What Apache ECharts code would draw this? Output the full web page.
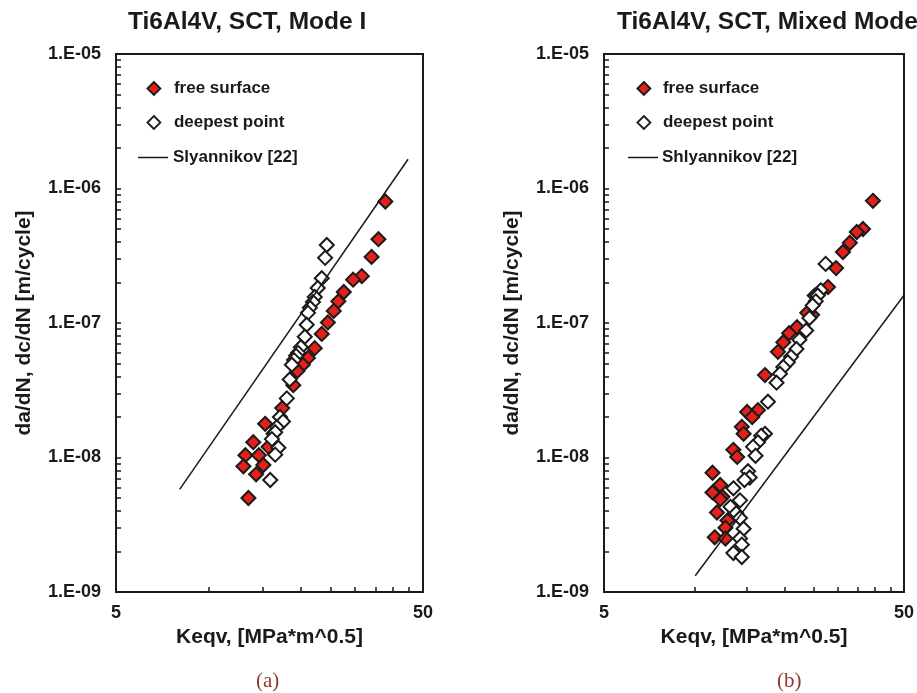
<!DOCTYPE html>
<html><head><meta charset="utf-8">
<script src="https://cdn.jsdelivr.net/npm/echarts@6/dist/echarts.min.js"></script>
<style>html,body{margin:0;padding:0;background:#fff}#c{width:917px;height:693px}</style>
</head><body><div id="c"></div>
<script>
// ---------- texts ----------
const panelTitles = ['Ti6Al4V, SCT, Mode I', 'Ti6Al4V, SCT, Mixed Mode'];
const panelTags = ['(a)', '(b)'];
const seriesNames = ['free surface', 'deepest point'];
const modelNames = ['Slyannikov [22]', 'Shlyannikov [22]'];
const xTitle = 'Keqv, [MPa*m^0.5]';
const yTitle = 'da/dN, dc/dN [m/cycle]';

// ---------- ticks ----------
const xTickValues = [5, 50];
const xTickLabels = ['5', '50'];
const xMinorTicks = [10, 15, 20, 25, 30, 35, 40, 45];
const yTickValues = [1e-9, 1e-8, 1e-7, 1e-6, 1e-5];
const yTickLabels = ['1.E-09', '1.E-08', '1.E-07', '1.E-06', '1.E-05'];
const yMinorTicks = [
  2e-9, 3e-9, 4e-9, 5e-9, 6e-9, 7e-9, 8e-9, 9e-9, 1e-8,
  2e-8, 3e-8, 4e-8, 5e-8, 6e-8, 7e-8, 8e-8, 9e-8, 1e-7,
  2e-7, 3e-7, 4e-7, 5e-7, 6e-7, 7e-7, 8e-7, 9e-7, 1e-6,
  2e-6, 3e-6, 4e-6, 5e-6, 6e-6, 7e-6, 8e-6, 9e-6
];

// ---------- data: [Keqv, rate] ----------
const modeIFree = [
  [37.7, 8.0e-7], [35.8, 4.2e-7], [34.0, 3.1e-7], [31.6, 2.23e-7], [29.6, 2.1e-7],
  [27.6, 1.7e-7], [26.5, 1.45e-7], [25.6, 1.23e-7], [24.5, 1.01e-7], [23.4, 8.3e-8],
  [22.2, 6.5e-8], [21.1, 5.5e-8], [20.3, 4.9e-8], [19.5, 4.4e-8], [18.9, 3.45e-8],
  [17.4, 2.33e-8], [16.3, 1.5e-8], [15.3, 1.78e-8], [15.7, 1.2e-8], [14.0, 1.3e-8],
  [13.2, 1.04e-8], [14.6, 1.04e-8], [13.0, 8.6e-9], [15.1, 8.8e-9], [14.3, 7.5e-9],
  [13.5, 5.0e-9]
];
const modeIDeep = [
  [24.3, 3.8e-7], [24.0, 3.05e-7], [23.4, 2.15e-7], [22.7, 1.82e-7], [22.2, 1.56e-7],
  [21.9, 1.43e-7], [21.4, 1.3e-7], [21.1, 1.19e-7], [20.9, 9.7e-8], [20.6, 7.9e-8],
  [20.0, 6.6e-8], [19.6, 6.0e-8], [19.3, 5.7e-8], [19.0, 5.3e-8], [18.7, 4.9e-8],
  [18.4, 3.8e-8], [18.0, 2.75e-8], [17.1, 2.0e-8], [17.5, 1.85e-8], [16.7, 1.68e-8],
  [16.5, 1.54e-8], [16.1, 1.37e-8], [16.9, 1.18e-8], [16.5, 1.05e-8], [15.9, 6.8e-9]
];
const modeIModel = [[8.06, 5.8e-9], [44.7, 1.65e-6]];

const mixedFree = [
  [39.4, 8.1e-7], [36.5, 5.0e-7], [34.8, 4.75e-7], [33.0, 3.95e-7], [31.3, 3.37e-7],
  [29.7, 2.56e-7], [27.9, 1.85e-7], [26.2, 1.7e-7], [25.2, 1.6e-7], [24.7, 1.15e-7],
  [23.8, 1.19e-7], [22.0, 9.3e-8], [20.7, 8.4e-8], [19.8, 7.2e-8], [19.0, 6.1e-8],
  [17.2, 4.1e-8], [16.3, 2.25e-8], [15.0, 2.18e-8], [15.6, 2.0e-8], [14.4, 1.69e-8],
  [14.6, 1.5e-8], [13.5, 1.14e-8], [13.9, 1.01e-8], [11.5, 7.7e-9], [12.2, 6.25e-9],
  [11.5, 5.5e-9], [12.4, 5.1e-9], [12.2, 4.9e-9], [11.9, 3.9e-9], [12.9, 3.4e-9],
  [12.7, 3.0e-9], [11.7, 2.55e-9], [12.7, 2.5e-9]
];
const mixedDeep = [
  [27.4, 2.75e-7], [26.4, 1.75e-7], [25.8, 1.6e-7], [25.4, 1.45e-7], [24.8, 1.35e-7],
  [24.2, 1.09e-7], [23.6, 8.8e-8], [22.4, 7.5e-8], [21.9, 6.4e-8], [21.0, 5.6e-8],
  [20.5, 5.1e-8], [19.8, 4.7e-8], [19.3, 4.2e-8], [18.8, 3.6e-8], [17.6, 2.6e-8],
  [17.2, 1.5e-8], [16.7, 1.45e-8], [16.3, 1.3e-8], [15.7, 1.2e-8], [16.0, 1.03e-8],
  [15.1, 7.9e-9], [15.3, 7.1e-9], [14.7, 6.8e-9], [13.5, 5.9e-9], [14.2, 4.8e-9],
  [13.2, 4.3e-9], [13.8, 3.85e-9], [14.2, 3.55e-9], [14.6, 2.95e-9], [14.2, 2.5e-9],
  [14.4, 2.25e-9], [13.5, 1.95e-9], [14.4, 1.82e-9]
];
const mixedModel = [[10.07, 1.32e-9], [50, 1.61e-7]];

// ---------- build ----------
const INK = '#1a1a1a';
const RED = '#e32119';
const FONT = '"Liberation Sans", Arial, sans-serif';
const grids = [
  {left: 116, top: 54, width: 307, height: 538},
  {left: 604, top: 54, width: 300, height: 538}
];
function fmtX(v) {
  for (let i = 0; i < xTickValues.length; i++) if (Math.abs(v - xTickValues[i]) < 1e-6) return xTickLabels[i];
  return '';
}
function fmtY(v) {
  const e = Math.round(Math.log10(v));
  for (let i = 0; i < yTickValues.length; i++) if (Math.round(Math.log10(yTickValues[i])) === e) return yTickLabels[i];
  return '';
}
const labelStyle = {fontSize: 18, fontWeight: 'bold', color: INK, fontFamily: FONT};
const nameStyle = {fontSize: 21, fontWeight: 'bold', color: INK, fontFamily: FONT};

const xAxes = [0, 1].map(i => ({
  type: 'log', logBase: 10, gridIndex: i, min: 5, max: 50,
  axisLine: {show: false}, splitLine: {show: false},
  axisTick: {show: true, inside: true, length: 5, customValues: xMinorTicks, lineStyle: {color: INK, width: 1.5}},
  axisLabel: {customValues: xTickValues, formatter: fmtX, margin: 12, ...labelStyle},
  name: xTitle, nameLocation: 'middle', nameGap: 32, nameTextStyle: nameStyle
}));
const yAxes = [0, 1].map(i => ({
  type: 'log', logBase: 10, gridIndex: i, min: 1e-9, max: 1e-5,
  axisLine: {show: false}, splitLine: {show: false},
  axisTick: {show: true, inside: true, length: 5, customValues: yMinorTicks, lineStyle: {color: INK, width: 1.5}},
  axisLabel: {customValues: yTickValues, formatter: fmtY, margin: 15, ...labelStyle},
  name: yTitle, nameLocation: 'middle', nameRotate: 90, nameGap: 81, nameTextStyle: nameStyle
}));

const panels = [
  {free: modeIFree, deep: modeIDeep, model: modeIModel, modelName: modelNames[0]},
  {free: mixedFree, deep: mixedDeep, model: mixedModel, modelName: modelNames[1]}
];
const series = [];
panels.forEach((p, i) => {
  series.push({
    type: 'scatter', name: seriesNames[0], xAxisIndex: i, yAxisIndex: i,
    symbol: 'diamond', symbolSize: 14,
    itemStyle: {color: RED, borderColor: INK, borderWidth: 2, opacity: 1},
    data: p.free
  });
  series.push({
    type: 'scatter', name: seriesNames[1], xAxisIndex: i, yAxisIndex: i,
    symbol: 'diamond', symbolSize: 14,
    itemStyle: {color: '#ffffff', borderColor: INK, borderWidth: 2, opacity: 1},
    data: p.deep
  });
  series.push({
    type: 'line', name: p.modelName, xAxisIndex: i, yAxisIndex: i,
    symbol: 'none', silent: true,
    itemStyle: {color: INK},
    lineStyle: {color: INK, width: 1.5},
    data: p.model
  });
});

const markerCenters = [153, 643];
const lineLefts = [138, 628];
const textLefts = [173, 662];
const legendTops = [80, 114, 149];
const legends = [];
[0, 1].forEach(i => {
  [seriesNames[0], seriesNames[1]].forEach((n, k) => {
    const w = 13;
    const left = markerCenters[i] - w / 2;
    legends.push({
      data: [{name: n, icon: 'diamond'}], left: left, top: legendTops[k], padding: 0,
      itemWidth: w, itemHeight: w, itemGap: 0, selectedMode: false,
      itemStyle: {borderWidth: 1.8, borderColor: INK},
      textStyle: {fontSize: 17, fontWeight: 'bold', color: INK, fontFamily: FONT,
        padding: [0, 0, 0, textLefts[i] - (left + w + 5)]}
    });
  });
  const lw = 30;
  legends.push({
    data: [{name: panels[i].modelName, icon: 'rect'}], left: lineLefts[i], top: legendTops[2], padding: 0,
    itemWidth: lw, itemHeight: 1.5, itemGap: 0, selectedMode: false,
    itemStyle: {color: INK, borderWidth: 0},
    textStyle: {fontSize: 17, fontWeight: 'bold', color: INK, fontFamily: FONT,
      padding: [0, 0, 0, textLefts[i] - (lineLefts[i] + lw + 5)]}
  });
});

const chart = echarts.init(document.getElementById('c'), null, {renderer: 'canvas'});
chart.setOption({
  backgroundColor: '#ffffff',
  animation: false,
  title: [
    {text: panelTitles[0], left: 128, top: 10, padding: 0, textStyle: {fontSize: 24.5, fontWeight: 'bold', color: INK, fontFamily: FONT}},
    {text: panelTitles[1], left: 617, top: 10, padding: 0, textStyle: {fontSize: 24.5, fontWeight: 'bold', color: INK, fontFamily: FONT}}
  ],
  grid: grids.map(g => ({...g, show: true, borderColor: INK, borderWidth: 2, backgroundColor: 'transparent'})),
  xAxis: xAxes,
  yAxis: yAxes,
  legend: legends,
  series: series,
  graphic: [
    {type: 'text', left: 256, top: 671, style: {text: panelTags[0], font: '21px "Liberation Serif", serif', fill: '#8a3b2e'}},
    {type: 'text', left: 777, top: 671, style: {text: panelTags[1], font: '21px "Liberation Serif", serif', fill: '#8a3b2e'}}
  ]
});
</script>
</body></html>
